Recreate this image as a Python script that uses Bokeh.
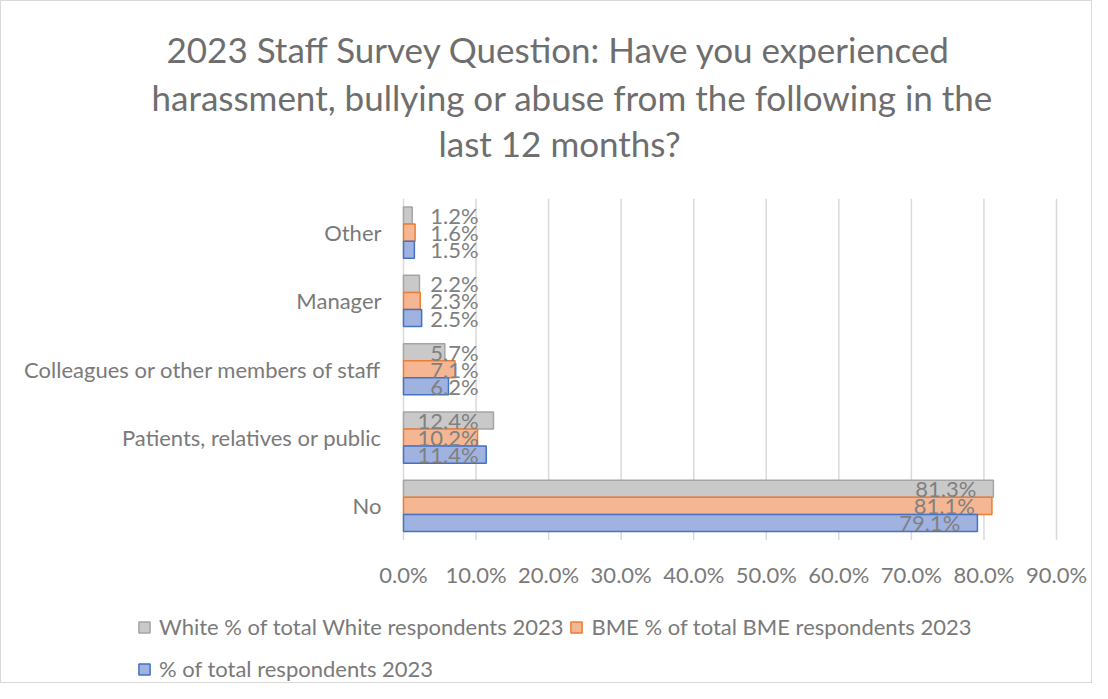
from bokeh.plotting import figure
from bokeh.models import (Range1d, ColumnDataSource, Legend, LegendItem, Title)
from bokeh.transform import dodge
from bokeh.core.properties import value
from bokeh.embed import file_html
from bokeh.resources import INLINE

# ---- data ----
categories = ["Other", "Manager", "Colleagues or other members of staff",
              "Patients, relatives or public", "No"]
white = [1.2, 2.2, 5.7, 12.4, 81.3]
bme = [1.6, 2.3, 7.1, 10.2, 81.1]
total = [1.5, 2.5, 6.2, 11.4, 79.1]
series_names = ["White % of total White respondents 2023",
                "BME % of total BME respondents 2023",
                "% of total respondents 2023"]
x_ticks = [0, 10, 20, 30, 40, 50, 60, 70, 80, 90]
x_tick_labels = [f"{t:.1f}%" for t in x_ticks]
title_lines = ["2023 Staff Survey Question: Have you experienced",
               "harassment, bullying or abuse from the following in the",
               "last 12 months?"]

FONT = "Lato"
TXT = "#7a7a7a"

# ---- layout (pixels) ----
W, H = 1092, 683
AX0, AX1 = 402, 1055          # 0% and 90% on the canvas
TOP, BOTTOM = 192, 537        # top and bottom of the bar area
PX_X = (AX1 - AX0) / 90.0
n = len(categories)
PX_Y = (BOTTOM - TOP) / n

pos = list(range(n))[::-1]    # Other at the top, No at the bottom

p = figure(width=W, height=H, output_backend="svg", toolbar_location=None,
           title=None,
           x_range=Range1d(-AX0 / PX_X, 90 + (W - AX1) / PX_X),
           y_range=Range1d(-0.5 - (H - BOTTOM) / PX_Y, n - 0.5),
           min_border_left=0, min_border_right=0, min_border_bottom=0,
           min_border_top=0)
p.outline_line_color = None
p.background_fill_color = "white"
p.border_fill_color = "white"
p.styles = {"border": "1px solid #d9d9d9", "box-sizing": "border-box"}
p.xaxis.visible = False
p.yaxis.visible = False
p.xgrid.visible = False
p.ygrid.visible = False

# ---- title (three centred lines) ----
p.add_layout(Title(text=" ", text_font=FONT, text_font_size="10px", standoff=21), "above")
for txt, off, so in zip(title_lines[::-1], [437, 150, 165], [0, 4, 4]):
    p.add_layout(Title(text=txt, align="left", offset=off, text_font=FONT,
                       text_font_size="35px", text_color="#6e6e6e",
                       text_font_style="normal", standoff=so), "above")
p.add_layout(Title(text=" ", text_font=FONT, text_font_size="10px", standoff=8), "above")

# ---- vertical grid lines and value-axis labels ----
tick_src = ColumnDataSource(dict(x=x_ticks, lab=x_tick_labels))
p.segment(x0="x", x1="x", y0=-0.5, y1=n - 0.5, source=tick_src,
          line_color="#d9d9d9", line_width=1.5)
p.text(x="x", y=-0.5, text="lab", source=tick_src, text_align="center",
       text_baseline="middle", y_offset=35, text_font=value(FONT),
       text_font_size="22px", text_color=TXT)

# ---- bars ----
src = ColumnDataSource(dict(cat=categories, pos=pos, white=white, bme=bme, total=total,
                            wl=[f"{v:.1f}%" for v in white],
                            bl=[f"{v:.1f}%" for v in bme],
                            tl=[f"{v:.1f}%" for v in total],
                            wx=[max(v, 12.7) for v in white],
                            bx=[max(v, 12.7) for v in bme],
                            tx=[max(v, 12.7) for v in total]))

specs = [("white", "wx", "wl", 0.25, "#c9c9c9", "#a5a5a5"),
         ("bme", "bx", "bl", 0.0, "#f5b793", "#ed7d31"),
         ("total", "tx", "tl", -0.25, "#9fb2e0", "#4472c4")]
renderers = []
for col, lx, lt, off, fc, lc in specs:
    renderers.append(p.hbar(y=dodge("pos", off), left=0, right=col,
                            height=0.25, source=src, fill_color=fc, line_color=lc,
                            line_width=1.5))
for col, lx, lt, off, fc, lc in specs:
    p.text(x=lx, y=dodge("pos", off), text=lt, source=src,
           text_align="right", text_baseline="middle", x_offset=-17,
           text_font=value(FONT), text_font_size="22px", text_color="#808080")

# category labels
p.text(x=0, y="pos", text="cat", source=src, text_align="right", text_baseline="middle",
       x_offset=-22, text_font=value(FONT), text_font_size="22px", text_color=TXT)

# ---- legend ----
def mk_legend(items, loc):
    lg = Legend(items=items, location=loc, orientation="horizontal",
                glyph_width=14, glyph_height=14, label_standoff=8, spacing=6,
                padding=0, margin=0, border_line_color=None, background_fill_alpha=0,
                label_text_font=FONT, label_text_font_size="22px", label_text_color=TXT,
                label_height=20)
    p.add_layout(lg, "center")
    return lg

mk_legend([LegendItem(label=series_names[0], renderers=[renderers[0]]),
           LegendItem(label=series_names[1], renderers=[renderers[1]])], (136, 44))
mk_legend([LegendItem(label=series_names[2], renderers=[renderers[2]])], (136, 2))

open("out.html", "w").write(file_html(p, INLINE))
